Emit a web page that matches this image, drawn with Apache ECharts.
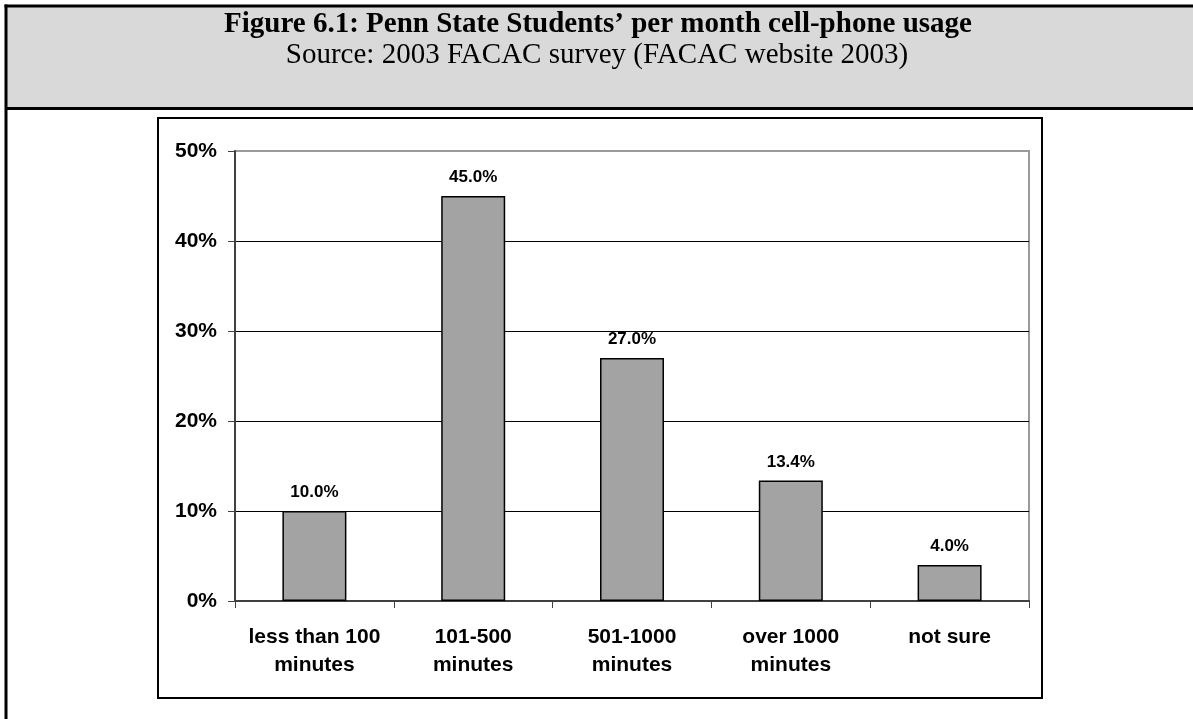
<!DOCTYPE html>
<html>
<head>
<meta charset="utf-8">
<title>Penn State Students' per month cell-phone usage</title>
<script src="https://cdn.jsdelivr.net/npm/echarts@6/dist/echarts.min.js"></script>
<style>
  html, body { margin: 0; padding: 0; background: #ffffff; }
  #chart { width: 1193px; height: 719px; }
</style>
</head>
<body>
<div id="chart"></div>
<script>
// Survey answers (percent of students)
const categories = ['less than 100\nminutes', '101-500\nminutes', '501-1000\nminutes', 'over 1000\nminutes', 'not sure'];
const shares = [10.0, 45.0, 27.0, 13.4, 4.0];
const yTicks = [0, 10, 20, 30, 40, 50];

const figureTitle = 'Figure 6.1: Penn State Students\u2019 per month cell-phone usage';
const figureSource = 'Source: 2003 FACAC survey (FACAC website 2003)';

const chart = echarts.init(document.getElementById('chart'));

const sans = '"Liberation Sans", Arial, sans-serif';
const serif = '"Liberation Serif", "Times New Roman", serif';

chart.setOption({
  animation: false,
  backgroundColor: '#ffffff',
  graphic: [
    // shaded caption band
    { type: 'rect', z: -10, shape: { x: 6, y: 6, width: 1200, height: 102 }, style: { fill: '#d9d9d9' } },
    // frame lines
    { type: 'line', z: -5, shape: { x1: 4.5, y1: 6, x2: 1200, y2: 6 }, style: { stroke: '#000', lineWidth: 3 } },
    { type: 'line', z: -5, shape: { x1: 6, y1: 4.5, x2: 6, y2: 730 }, style: { stroke: '#000', lineWidth: 3 } },
    { type: 'line', z: -5, shape: { x1: 6, y1: 108.5, x2: 1200, y2: 108.5 }, style: { stroke: '#000', lineWidth: 3 } },
    // chart box
    { type: 'rect', z: -5, shape: { x: 158, y: 118, width: 884, height: 580 }, style: { fill: 'none', stroke: '#000', lineWidth: 2 } },
    // caption texts
    { type: 'text', x: 598, y: 25, style: { text: figureTitle, font: 'bold 29px ' + serif, fill: '#000', textAlign: 'center', textVerticalAlign: 'middle' } },
    { type: 'text', x: 597, y: 55, style: { text: figureSource, font: '29px ' + serif, fill: '#000', textAlign: 'center', textVerticalAlign: 'middle' } }
  ],
  grid: {
    left: 235, right: 164, top: 151, bottom: 118,
    show: true, borderColor: '#9a9a9a', borderWidth: 2, backgroundColor: 'transparent'
  },
  xAxis: {
    type: 'category',
    data: categories,
    boundaryGap: true,
    axisLine: { show: true, lineStyle: { color: '#404040', width: 2 } },
    axisTick: { show: true, alignWithLabel: false, length: 7, lineStyle: { color: '#404040', width: 1 } },
    axisLabel: {
      interval: 0, margin: 22, color: '#000',
      fontFamily: sans, fontWeight: 'bold', fontSize: 21, lineHeight: 28
    },
    splitLine: { show: false }
  },
  yAxis: {
    type: 'value',
    min: yTicks[0], max: yTicks[yTicks.length - 1], interval: 10,
    axisLine: { show: true, lineStyle: { color: '#404040', width: 2 } },
    axisTick: { show: true, length: 7, lineStyle: { color: '#404040', width: 1 } },
    axisLabel: {
      margin: 18, color: '#000',
      fontFamily: sans, fontWeight: 'bold', fontSize: 21,
      formatter: v => v + '%'
    },
    splitLine: { show: true, showMinLine: false, showMaxLine: false, lineStyle: { color: '#000', width: 1 } }
  },
  series: [{
    type: 'bar',
    data: shares,
    barWidth: 64,
    itemStyle: { color: '#a3a3a3', borderColor: '#000', borderWidth: 1.5 },
    label: {
      show: true, position: 'top', distance: 10, color: '#000',
      fontFamily: sans, fontWeight: 'bold', fontSize: 17,
      formatter: p => p.value.toFixed(1) + '%'
    }
  }]
});
</script>
</body>
</html>
